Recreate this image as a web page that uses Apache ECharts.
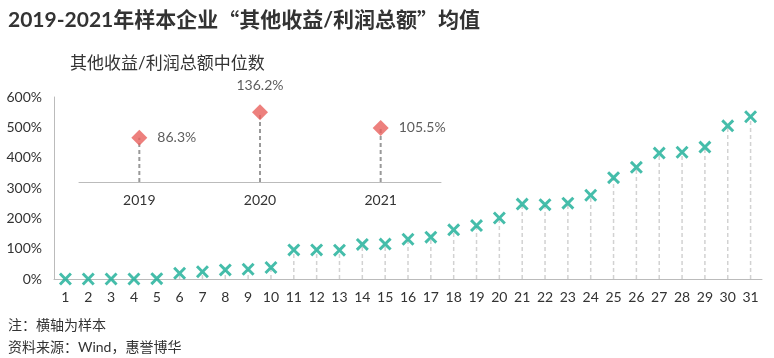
<!DOCTYPE html>
<html><head><meta charset="utf-8">
<script src="https://cdn.jsdelivr.net/npm/echarts@6/dist/echarts.min.js"></script>
<style>html,body{margin:0;padding:0;background:#fff}#c{width:774px;height:358px}</style>
</head><body><div id="c"></div>
<script>
const sampleCategories = ['1','2','3','4','5','6','7','8','9','10','11','12','13','14','15','16','17','18','19','20','21','22','23','24','25','26','27','28','29','30','31'];
const sampleValues = [0,0,0,0,1,19,24,30,32,38,96,96,95,114,115,131,138,162,176,201,247,245,250,276,334,368,415,418,435,505,535];
const yearCategories = ['2019','2020','2021'];
const yearValues = [86.3,136.2,105.5];
const yTicks = [0,100,200,300,400,500,600];

const FONT = 'Lato, "Noto Sans CJK SC", sans-serif';
const CJK = '"Noto Sans CJK SC", sans-serif';
const chart = echarts.init(document.getElementById('c'));
const xPath = 'path://M0,1.6L1.6,0L5,3.4L8.4,0L10,1.6L6.6,5L10,8.4L8.4,10L5,6.6L1.6,10L0,8.4L3.4,5Z';

function dropLine(color, dash, width) {
  return function (params, api) {
    const x = api.value(0), v = api.value(1);
    const p0 = api.coord([x, 0]);
    const p1 = api.coord([x, v]);
    return {type: 'line', shape: {x1: p0[0], y1: p0[1], x2: p1[0], y2: p1[1]},
      style: {stroke: color, lineDash: dash, lineWidth: width}};
  };
}

chart.setOption({
  animation: false,
  textStyle: {fontFamily: FONT},
  title: [
    {text: '2019-2021年样本企业{q|“}其他收益/利润总额{q|”}均值', left: 8, top: 10, padding: 0,
     textStyle: {fontFamily: FONT, fontSize: 21, fontWeight: 'bold', color: '#333',
       rich: {q: {fontFamily: CJK, fontSize: 21, fontWeight: 'bold', color: '#333'}}}},
    {text: '其他收益/利润总额中位数', left: 70, top: 55, padding: 0,
     textStyle: {fontFamily: FONT, fontSize: 17, fontWeight: 'normal', color: '#333'}},
    {text: '注：横轴为样本', left: 8, top: 318, padding: 0,
     textStyle: {fontFamily: FONT, fontSize: 14, fontWeight: 'normal', color: '#333'}},
    {text: '资料来源：Wind，惠誉博华', left: 8, top: 340, padding: 0,
     textStyle: {fontFamily: FONT, fontSize: 14, fontWeight: 'normal', color: '#333'}}
  ],
  grid: [
    {left: 54, right: 12, top: 97, bottom: 79},
    {left: 79, right: 333, top: 100, bottom: 176}
  ],
  xAxis: [
    {type: 'category', data: sampleCategories, gridIndex: 0,
     axisLine: {lineStyle: {color: '#bbb', width: 1}}, axisTick: {show: false},
     axisLabel: {color: '#333', fontSize: 14, margin: 11, fontFamily: FONT}},
    {type: 'category', data: yearCategories, gridIndex: 1,
     axisLine: {lineStyle: {color: '#bbb', width: 1}}, axisTick: {show: false},
     axisLabel: {color: '#333', fontSize: 14, margin: 11, fontFamily: FONT}}
  ],
  yAxis: [
    {type: 'value', gridIndex: 0, min: yTicks[0], max: yTicks[yTicks.length - 1], interval: 100,
     axisLine: {show: true, lineStyle: {color: '#bbb'}}, axisTick: {show: false},
     splitLine: {show: false},
     axisLabel: {formatter: '{value}%', color: '#333', fontSize: 14, margin: 12, fontFamily: FONT}},
    {type: 'value', gridIndex: 1, min: 0, max: 160, show: false}
  ],
  series: [
    {type: 'custom', xAxisIndex: 0, yAxisIndex: 0,
     renderItem: dropLine('#d2d2d2', [4, 3], 1.5),
     data: sampleValues.map((v, i) => [i, v]), z: 1},
    {type: 'scatter', xAxisIndex: 0, yAxisIndex: 0, data: sampleValues,
     symbol: xPath, symbolSize: 13, itemStyle: {color: '#17ad95'}, z: 3},
    {type: 'custom', xAxisIndex: 1, yAxisIndex: 1,
     renderItem: dropLine('#999', [4, 3], 2),
     data: yearValues.map((v, i) => [i, v]), z: 1},
    {type: 'scatter', xAxisIndex: 1, yAxisIndex: 1, symbol: 'diamond', symbolSize: [16, 16],
     itemStyle: {color: '#e8605c'}, z: 3,
     data: yearValues.map((v, i) => ({
       value: v,
       label: {show: true, position: i === 1 ? 'top' : 'right', distance: i === 1 ? 12 : 10,
               formatter: v.toFixed(1) + '%', color: '#333', fontSize: 14, fontFamily: FONT}
     }))}
  ]
});
</script></body></html>
